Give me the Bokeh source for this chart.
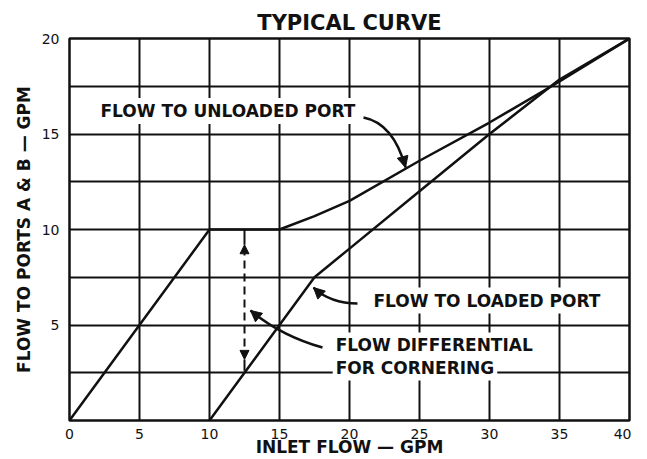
from bokeh.plotting import figure
from bokeh.models import FixedTicker, Label, Arrow, NormalHead, Range1d
from bokeh.embed import file_html
from bokeh.resources import INLINE

# ---- data ----
inlet_unloaded = [0, 10, 15, 17.5, 20, 25, 30, 35, 40]
flow_unloaded = [0, 10, 10, 10.7, 11.5, 13.6, 15.6, 17.75, 20]
inlet_loaded = [10, 12.5, 15, 17.5, 20, 25, 30, 35, 40]
flow_loaded = [0, 2.5, 5, 7.5, 9.0, 12.0, 15.0, 17.85, 20]

x_ticks = [0, 5, 10, 15, 20, 25, 30, 35, 40]
y_ticks = [5, 10, 15, 20]
y_grid = [2.5, 5, 7.5, 10, 12.5, 15, 17.5, 20]

# annotation texts and anchor points (data units)
note_text = ["FLOW TO UNLOADED PORT", "FLOW TO LOADED PORT", "FLOW DIFFERENTIAL", "FOR CORNERING"]
note_x = [2.0, 21.5, 18.8, 18.8]
note_y = [16.2, 6.28, 3.93, 2.77]

# curved leader arrows: start, control, tip
lead_x0 = [21.0, 20.57, 18.07]
lead_y0 = [15.86, 6.13, 3.82]
lead_cx = [23.14, 18.64, 15.07]
lead_cy = [15.55, 6.13, 4.45]
lead_x1 = [24.0, 17.43, 12.93]
lead_y1 = [13.25, 6.96, 5.76]

# flow differential (dashed double arrow)
diff_x = 12.5
diff_y_top = 9.2
diff_y_bottom = 3.2
diff_y_line = 10.0
diff_y_low = 2.6

FONT = "DejaVu Sans"
INK = "#111111"

p = figure(width=631, height=459, output_backend="svg", toolbar_location=None,
           x_range=Range1d(0, 40), y_range=Range1d(0, 20),
           min_border_left=69, min_border_right=2, min_border_top=38, min_border_bottom=39,
           title="TYPICAL CURVE")
p.title.align = "center"
p.title.text_font = FONT
p.title.text_font_size = "21px"
p.title.text_font_style = "bold"
p.title.text_color = INK
p.title.standoff = 8

p.outline_line_color = INK
p.outline_line_width = 2.5
p.outline_line_alpha = 1

# axes
p.xaxis.ticker = FixedTicker(ticks=x_ticks)
p.yaxis.ticker = FixedTicker(ticks=y_ticks)
for ax in (p.xaxis[0], p.yaxis[0]):
    ax.axis_line_color = None
    ax.major_tick_line_color = None
    ax.major_tick_in = 0
    ax.major_tick_out = 0
    ax.minor_tick_line_color = None
    ax.minor_tick_in = 0
    ax.minor_tick_out = 0
    ax.major_label_text_font = FONT
    ax.major_label_text_font_size = "14px"
    ax.major_label_text_color = INK
    ax.axis_label_text_font = FONT
    ax.axis_label_text_font_size = "17px"
    ax.axis_label_text_font_style = "bold"
    ax.axis_label_text_color = INK
p.xaxis.axis_label = "INLET FLOW — GPM"
p.yaxis.axis_label = "FLOW TO PORTS A & B — GPM"
p.xaxis.major_label_standoff = 8
p.xaxis.axis_label_standoff = -5
p.yaxis.major_label_standoff = 10
p.yaxis.axis_label_standoff = 5

# grid
p.xgrid.ticker = FixedTicker(ticks=x_ticks)
p.ygrid.ticker = FixedTicker(ticks=y_grid)
for g in (p.xgrid[0], p.ygrid[0]):
    g.grid_line_color = INK
    g.grid_line_width = 2
    g.grid_line_alpha = 1

# curves
p.line(inlet_unloaded, flow_unloaded, line_color=INK, line_width=2.5)
p.line(inlet_loaded, flow_loaded, line_color=INK, line_width=2.5)

# labels with white background
for t, x, y in zip(note_text, note_x, note_y):
    p.add_layout(Label(x=x, y=y, text=t, text_font=FONT, text_font_size="17px",
                       text_font_style="bold", text_color=INK, text_align="left",
                       text_baseline="middle", background_fill_color="white",
                       background_fill_alpha=1, padding=3))

# curved leaders
p.quadratic(x0=lead_x0, y0=lead_y0, x1=lead_x1, y1=lead_y1, cx=lead_cx, cy=lead_cy,
            line_color=INK, line_width=2.5)
for cx, cy, x1, y1 in zip(lead_cx, lead_cy, lead_x1, lead_y1):
    p.add_layout(Arrow(end=NormalHead(size=11, fill_color=INK, line_color=INK),
                       x_start=cx, y_start=cy, x_end=x1, y_end=y1,
                       line_alpha=0))

# dashed double arrow, with short solid stubs to the curves
p.add_layout(Arrow(start=NormalHead(size=9, fill_color=INK, line_color=INK),
                   end=NormalHead(size=9, fill_color=INK, line_color=INK),
                   x_start=diff_x, y_start=diff_y_bottom, x_end=diff_x, y_end=diff_y_top,
                   line_color=INK, line_width=2, line_dash="8 5"))
p.segment(x0=[diff_x, diff_x], y0=[diff_y_top, diff_y_bottom],
          x1=[diff_x, diff_x], y1=[diff_y_line, diff_y_low],
          line_color=INK, line_width=2)

open("out.html", "w").write(file_html(p, INLINE))
